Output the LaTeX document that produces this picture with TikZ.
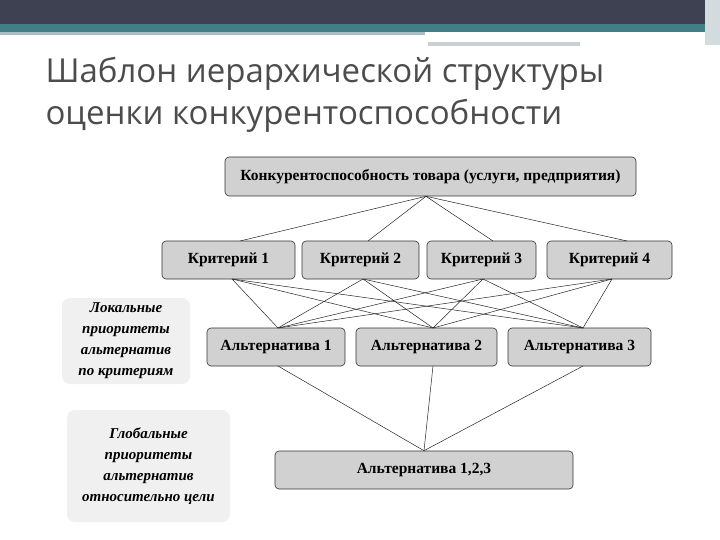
\documentclass[tikz,border=0pt]{standalone}
\usepackage{fontspec}
\setmainfont{Liberation Serif}
\newfontfamily\titlefont{Open Sans}
\begin{document}
\begin{tikzpicture}[x=1pt,y=-1pt,
 box/.style={draw=black!80,fill=black!18,rounded corners=4pt,line width=0.6pt,font=\bfseries\fontsize{15.5}{18}\selectfont,inner sep=0pt},
 side/.style={fill=black!6,rounded corners=8pt,font=\bfseries\itshape\fontsize{15}{21}\selectfont,align=center,inner sep=0pt},
 ln/.style={line width=0.5pt,black!85}]
\useasboundingbox (0,0) rectangle (720,540);
\fill[white] (0,0) rectangle (720,540);
\fill[fill={rgb,255:red,62;green,65;blue,82}] (0,0) rectangle (720,24);
\fill[fill={rgb,255:red,66;green,126;blue,134}] (0,24) rectangle (710,32);
\fill[fill={rgb,255:red,170;green,190;blue,195}] (0,32) rectangle (425,35);
\fill[fill={rgb,255:red,200;green,210;blue,210}] (428,42) rectangle (580,46);
\fill[fill={rgb,255:red,210;green,220;blue,222}] (705,0) rectangle (720,45);
\node[anchor=west,font=\titlefont\fontsize{33}{42}\selectfont,text=black!70,align=left] (title) at (42,95) {Шаблон иерархической структуры\\оценки конкурентоспособности};
\node[box,minimum width=411,minimum height=39] (top) at (430.5,176.5) {Конкурентоспособность товара (услуги, предприятия)};
\node[box,minimum width=133,minimum height=38] (k1) at (228.5,260) {Критерий 1};
\node[box,minimum width=117,minimum height=38] (k2) at (360.5,260) {Критерий 2};
\node[box,minimum width=109,minimum height=38] (k3) at (481.5,260) {Критерий 3};
\node[box,minimum width=125,minimum height=38] (k4) at (609.5,260) {Критерий 4};
\node[box,minimum width=138,minimum height=38] (a1) at (276,347) {Альтернатива 1};
\node[box,minimum width=141,minimum height=38] (a2) at (426.5,347) {Альтернатива 2};
\node[box,minimum width=143,minimum height=38] (a3) at (579.5,347) {Альтернатива 3};
\node[box,minimum width=298,minimum height=38] (all) at (424,470) {Альтернатива 1,2,3};
\node[side,minimum width=128,minimum height=86] (s1) at (126,341) {Локальные\\приоритеты\\альтернатив\\по критериям};
\node[side,minimum width=163,minimum height=112] (s2) at (148.5,466) {Глобальные\\приоритеты\\альтернатив\\относительно цели};
\coordinate (tb) at ([xshift=-4.5pt]top.south);
\foreach \k/\x in {k1/240,k2/368,k3/493,k4/627}
  \draw[ln] (tb) -- (\x,241);
\foreach \x in {232,363,483,612}
  \foreach \y in {278,433,583}
    \draw[ln] (\x,279) -- (\y,328);
\coordinate (ab) at (all.north);
\foreach \x in {278,433,583}
  \draw[ln] (\x,366) -- (ab);
\end{tikzpicture}
\end{document}
